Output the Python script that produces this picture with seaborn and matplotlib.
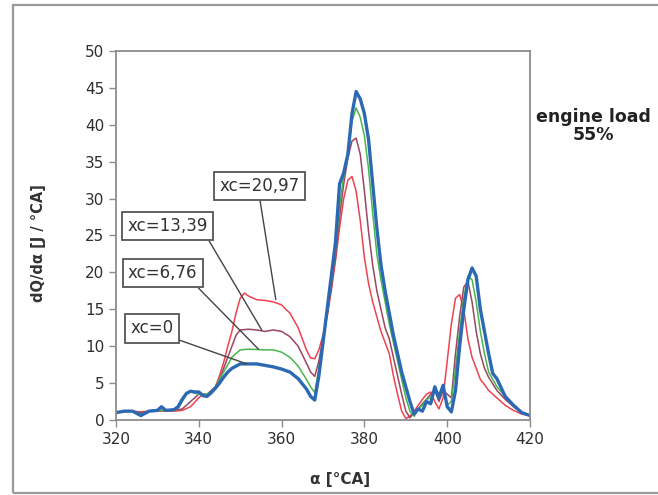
import matplotlib
matplotlib.use("Agg")
import matplotlib.pyplot as plt
import seaborn as sns
from matplotlib.patches import Rectangle

# Heat release rate curves
x_xc0 = [320, 322, 324, 326, 328, 330, 331, 332, 334, 335, 336, 337, 338, 339, 340, 341, 342, 343, 344,
         345, 346, 347, 348, 350, 352, 354, 356, 358, 360, 362, 364, 366, 367, 368, 369, 370, 371, 372,
         373, 374, 375, 376, 377, 378, 379, 380, 381, 382, 383, 384, 385, 386, 387, 388, 389, 390, 391,
         392, 393, 394, 395, 396, 397, 398, 399, 400, 401, 402, 403, 404, 405, 406, 407, 408, 409, 410,
         411, 412, 414, 416, 418, 420]
y_xc0 = [1.0, 1.2, 1.2, 0.6, 1.2, 1.3, 1.8, 1.3, 1.4, 1.8, 2.8, 3.6, 3.9, 3.8, 3.8, 3.3, 3.2, 3.7, 4.3,
         5.0, 5.8, 6.5, 7.0, 7.6, 7.6, 7.6, 7.4, 7.2, 6.9, 6.5, 5.6, 4.2, 3.2, 2.7, 6.0, 10.5, 15.0, 19.5,
         24.0, 32.0, 33.5, 36.0, 41.5, 44.5, 43.5, 41.5, 38.0, 32.0, 26.0, 21.0, 17.5, 14.5, 11.5, 9.0, 6.5, 4.5, 2.5,
         0.8, 1.5, 1.2, 2.5, 2.2, 4.5, 3.0, 4.7, 1.8, 1.1, 4.0, 10.0, 15.0, 19.0, 20.6, 19.5, 15.0, 12.0, 9.0,
         6.3, 5.6, 3.2, 2.0, 1.0, 0.6]

x_xc676 = [320, 322, 324, 326, 328, 330, 332, 334, 335, 336, 337, 338, 340, 342, 343, 344, 345, 346, 347,
           348, 350, 352, 356, 358, 360, 362, 364, 366, 367, 368, 369, 370, 371, 372, 373, 374, 375, 376,
           377, 378, 379, 380, 381, 382, 383, 384, 385, 386, 387, 388, 389, 390, 391, 392, 393, 394, 395,
           396, 397, 398, 399, 400, 401, 402, 403, 404, 405, 406, 407, 408, 409, 410, 412, 414, 416, 418, 420]
y_xc676 = [1.0, 1.2, 1.2, 0.8, 1.2, 1.3, 1.3, 1.4, 1.6, 2.5, 3.5, 3.8, 3.5, 3.5, 3.8, 4.5, 5.5, 6.5, 7.5,
           8.5, 9.5, 9.6, 9.5, 9.5, 9.2, 8.5, 7.3, 5.5, 4.5, 3.7, 7.0, 10.5, 14.5, 18.5, 23.0, 29.0, 33.0, 36.0,
           40.5, 42.3, 41.0, 38.5, 34.0, 28.0, 22.5, 19.0, 16.0, 13.0, 10.5, 8.0, 5.5, 3.0, 1.2, 0.5, 1.5, 2.0, 2.8,
           3.0, 4.3, 3.5, 4.5, 2.0, 2.5, 7.0, 12.0, 16.5, 19.5, 19.0, 16.0, 12.0, 9.0, 6.5, 4.5, 3.2, 2.0, 1.0, 0.6]

x_xc1339 = [320, 322, 324, 326, 328, 330, 332, 334, 336, 338, 340, 342, 344, 345, 346, 347, 348, 349, 350,
            352, 354, 356, 358, 360, 362, 364, 366, 367, 368, 369, 370, 371, 372, 373, 374, 375, 376, 377,
            378, 379, 380, 381, 382, 383, 384, 385, 386, 387, 388, 389, 390, 391, 392, 393, 394, 395, 396,
            397, 398, 399, 400, 401, 402, 403, 404, 405, 406, 407, 408, 409, 410, 412, 414, 416, 418, 420]
y_xc1339 = [1.0, 1.2, 1.2, 1.0, 1.2, 1.3, 1.3, 1.3, 1.5, 2.5, 3.5, 3.5, 4.5, 5.5, 7.0, 8.5, 10.0, 11.5, 12.2,
            12.3, 12.2, 12.0, 12.2, 12.0, 11.3, 10.0, 7.7, 6.5, 5.9, 8.0, 11.0, 14.5, 18.0, 22.0, 27.5, 32.0, 35.5, 37.8,
            38.2, 36.0, 31.0, 25.5, 21.0, 17.5, 15.0, 12.5, 11.0, 8.5, 6.0, 3.5, 1.2, 0.3, 1.0, 1.5, 2.2, 2.8, 3.5,
            4.0, 2.5, 4.0, 3.5, 3.0, 9.0, 14.0, 18.0, 18.8, 16.0, 12.0, 9.0, 7.0, 5.8, 4.0, 2.8, 1.8, 1.0, 0.6]

x_xc2097 = [320, 322, 324, 326, 328, 330, 332, 334, 336, 338, 340, 341, 342, 343, 344, 345, 346, 347, 348,
            349, 350, 351, 352, 354, 356, 358, 359, 360, 361, 362, 363, 364, 365, 366, 367, 368, 369, 370,
            371, 372, 373, 374, 375, 376, 377, 378, 379, 380, 381, 382, 383, 384, 385, 386, 387, 388, 389,
            390, 391, 392, 393, 394, 395, 396, 397, 398, 399, 400, 401, 402, 403, 404, 405, 406, 407, 408,
            409, 410, 412, 414, 416, 418, 420]
y_xc2097 = [1.0, 1.1, 1.2, 1.1, 1.2, 1.2, 1.2, 1.2, 1.3, 1.8, 3.0, 3.5, 3.3, 3.8, 4.5, 6.0, 7.8, 10.0, 12.0,
            14.5, 16.5, 17.2, 16.8, 16.3, 16.2, 16.0, 15.8, 15.6, 15.0, 14.5, 13.5, 12.5, 11.0, 9.5, 8.4, 8.3, 9.5, 11.5,
            14.0, 17.5, 21.5, 26.0, 30.0, 32.5, 33.0, 31.0, 27.0, 22.0, 18.5, 16.0, 14.0, 12.0, 10.5, 9.0, 6.0, 3.5, 1.2,
            0.2, 0.5, 1.2, 2.0, 2.8, 3.5, 3.8, 2.5, 1.5, 3.0, 8.0, 13.0, 16.5, 17.0, 15.0, 11.0, 8.5, 7.0, 5.5,
            4.8, 4.0, 3.0, 2.0, 1.3, 0.8, 0.6]

labels = ["xc=0", "xc=6,76", "xc=13,39", "xc=20,97"]
colors = ["#2b69b3", "#48b64c", "#9c4561", "#ef4250"]
widths = [2.4, 1.1, 1.1, 1.1]

sns.set_style("ticks")
plt.rcParams['font.family'] = ['DejaVu Sans']

fig = plt.figure(figsize=(6.58, 4.95), dpi=100)
ax = fig.add_axes([0.1763, 0.1515, 0.6292, 0.7455])

series = [(x_xc2097, y_xc2097), (x_xc1339, y_xc1339), (x_xc676, y_xc676), (x_xc0, y_xc0)]
for (xs, ys), c, w in zip(series, colors[::-1], widths[::-1]):
    sns.lineplot(x=xs, y=ys, ax=ax, color=c, linewidth=w, estimator=None)

ax.set_xlim(320, 420)
ax.set_ylim(0, 50)
ax.set_xticks(range(320, 421, 20))
ax.set_yticks(range(0, 51, 5))
for s in ax.spines.values():
    s.set_visible(True)
    s.set_color("#8c8c8c")
    s.set_linewidth(1.3)
ax.tick_params(direction="out", length=5, width=1, color="#8c8c8c",
               labelsize=11, labelcolor="#2e2e2e")

ax.set_xlabel("α [°CA]", fontsize=11, fontweight="bold", color="#333333")
ax.xaxis.set_label_coords(0.54, -0.142)
ax.set_ylabel("dQ/dα [J / °CA]", fontsize=10.5, fontweight="bold", color="#333333")
ax.yaxis.set_label_coords(-0.17, 0.48)

# boxed labels with leader lines
box = dict(boxstyle="square,pad=0.32", fc="white", ec="#555555", lw=1.3)
ann = [("xc=20,97", (344.9, 31.7), (358.6, 16.3), 0.5),
       ("xc=13,39", (322.8, 26.3), (355.2, 12.2), 0.97),
       ("xc=6,76", (322.9, 19.9), (354.4, 9.6), 0.93),
       ("xc=0", (323.4, 12.4), (351.6, 7.6), 0.97)]
for txt, pos, tip, rp in ann:
    ax.annotate(txt, xy=tip, xytext=pos, ha="left", va="center", fontsize=12, color="#333333",
                bbox=box, arrowprops=dict(arrowstyle="-", color="#444444", lw=1.0,
                                          relpos=(rp, 0), shrinkA=0, shrinkB=0))

fig.text(593 / 658, 1 - 126 / 495, "engine load\n55%", ha="center", va="center",
         fontsize=12.5, fontweight="bold", color="#222222", linespacing=1.05)

# outer frame of the picture
fig.patches.append(Rectangle((12.5 / 658, 2 / 495), 0.99, 1 - 7 / 495, transform=fig.transFigure,
                             fill=False, ec="#9a9a9a", lw=1.6))

fig.savefig("out.png", dpi=100)
